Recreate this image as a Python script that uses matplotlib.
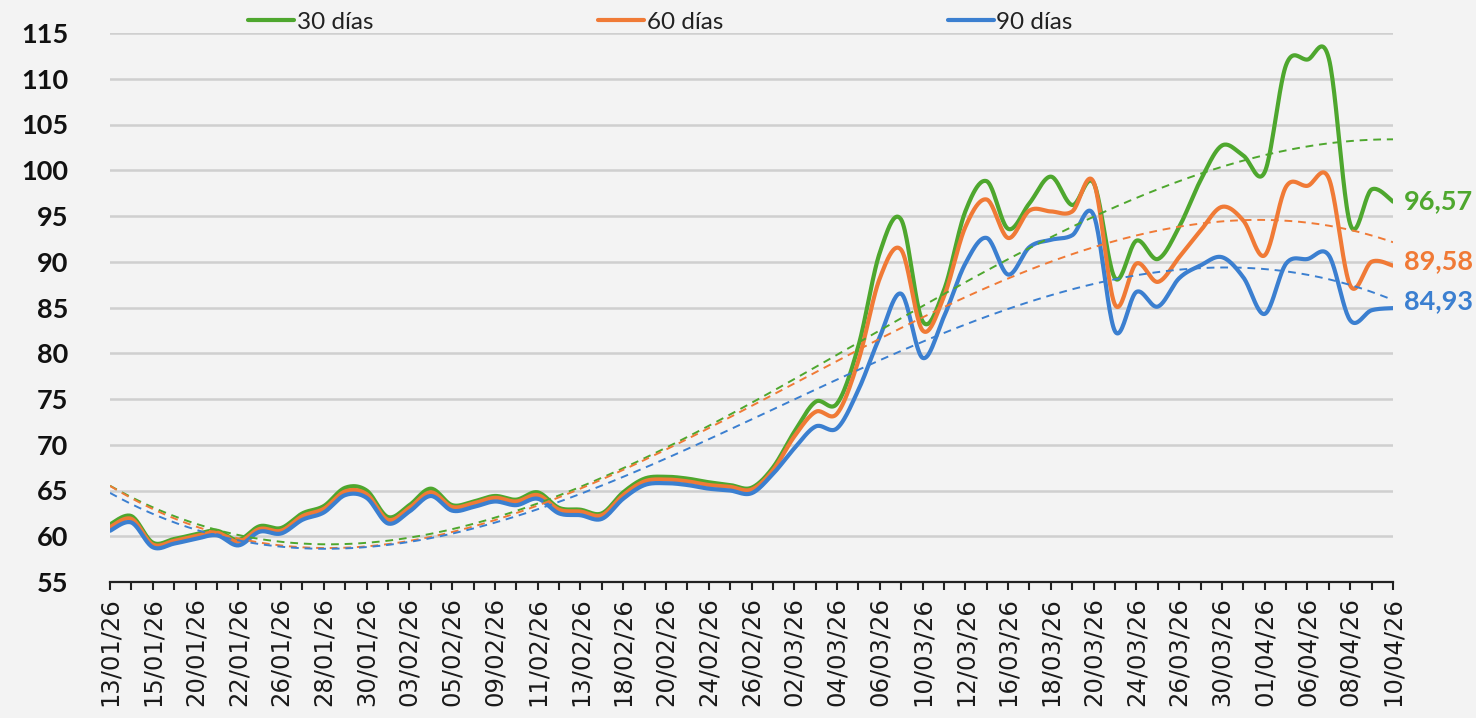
import numpy as np
import matplotlib
matplotlib.use("Agg")
import matplotlib.pyplot as plt

tick_labels = ["13/01/26", "15/01/26", "20/01/26", "22/01/26", "26/01/26", "28/01/26", "30/01/26",
               "03/02/26", "05/02/26", "09/02/26", "11/02/26", "13/02/26", "18/02/26", "20/02/26",
               "24/02/26", "26/02/26", "02/03/26", "04/03/26", "06/03/26", "10/03/26", "12/03/26",
               "16/03/26", "18/03/26", "20/03/26", "24/03/26", "26/03/26", "30/03/26", "01/04/26",
               "06/04/26", "08/04/26", "10/04/26"]

series_names = ["30 días", "60 días", "90 días"]

d30 = [61.3, 62.2, 59.3, 59.7, 60.2, 60.6, 59.6, 61.1, 60.9, 62.5, 63.3, 65.3, 65.0, 62.1, 63.4, 65.2,
       63.4, 63.8, 64.4, 64.0, 64.8, 63.1, 62.9, 62.5, 64.8, 66.3, 66.5, 66.3, 65.9, 65.6, 65.3, 67.5,
       71.4, 74.7, 74.5, 80.8, 91.0, 94.6, 83.5, 86.9, 95.5, 98.8, 93.6, 96.4, 99.3, 96.2, 98.6, 88.2,
       92.3, 90.3, 93.8, 98.9, 102.7, 101.6, 99.8, 111.5, 112.1, 112.2, 94.1, 97.9, 96.57]
d60 = [61.0, 61.9, 59.1, 59.5, 60.0, 60.4, 59.4, 60.8, 60.6, 62.2, 63.0, 64.9, 64.6, 61.8, 63.1, 64.8,
       63.2, 63.6, 64.2, 63.8, 64.5, 62.9, 62.7, 62.3, 64.5, 66.0, 66.2, 66.0, 65.6, 65.4, 65.1, 67.2,
       70.9, 73.6, 73.4, 79.2, 88.2, 91.3, 82.5, 86.2, 93.8, 96.8, 92.6, 95.6, 95.5, 95.5, 98.7, 85.3,
       89.8, 87.8, 90.5, 93.4, 96.0, 94.5, 90.7, 98.2, 98.3, 99.1, 87.4, 90.0, 89.58]
d90 = [60.6, 61.5, 58.8, 59.2, 59.7, 60.1, 59.0, 60.5, 60.3, 61.8, 62.6, 64.5, 64.2, 61.4, 62.7, 64.4,
       62.8, 63.2, 63.8, 63.4, 64.1, 62.5, 62.3, 61.9, 64.1, 65.6, 65.8, 65.6, 65.2, 65.0, 64.7, 66.8,
       69.6, 72.0, 71.8, 76.0, 81.8, 86.5, 79.5, 84.0, 89.8, 92.6, 88.6, 91.6, 92.4, 92.9, 95.1, 82.4,
       86.7, 85.1, 88.2, 89.6, 90.5, 88.3, 84.3, 89.8, 90.3, 90.7, 83.6, 84.7, 84.93]

end_labels = ["96,57", "89,58", "84,93"]
colors = ["#4EA72E", "#F07A36", "#3B7FD0"]


def smooth(y, n=24):
    """Excel-like smoothed line: cubic Bezier segments with Catmull-Rom controls."""
    y = np.asarray(y, float)
    x = np.arange(len(y), dtype=float)
    xs, ys = [], []
    t = np.linspace(0, 1, n, endpoint=False)
    for i in range(len(y) - 1):
        i0 = max(i - 1, 0)
        i3 = min(i + 2, len(y) - 1)
        for arr, out in ((x, xs), (y, ys)):
            p0, p1, p2, p3 = arr[i0], arr[i], arr[i + 1], arr[i3]
            c1 = p1 + (p2 - p0) / 6.0
            c2 = p2 - (p3 - p1) / 6.0
            out.append((1 - t) ** 3 * p1 + 3 * (1 - t) ** 2 * t * c1 + 3 * (1 - t) * t ** 2 * c2 + t ** 3 * p2)
    xs.append([x[-1]])
    ys.append([y[-1]])
    return np.concatenate(xs), np.concatenate(ys)


bg = "#F3F3F3"
fig = plt.figure(figsize=(14.76, 7.18), dpi=100, facecolor=bg)
ax = fig.add_axes([110 / 1476, 136 / 718, 1283 / 1476, 549 / 718])
ax.set_facecolor(bg)

n = len(d30)
xi = np.arange(n)

for data, c, name in zip([d30, d60, d90], colors, series_names):
    sx, sy = smooth(data)
    ax.plot(sx, sy, color=c, lw=3.0, solid_capstyle="round", label=name, zorder=3)

for data, c in zip([d30, d60, d90], colors):
    coef = np.polyfit(xi, data, 3)
    xx = np.linspace(0, n - 1, 400)
    ax.plot(xx, np.polyval(coef, xx), color=c, lw=1.4, ls=(0, (4, 3)), zorder=4)

ax.set_xlim(0, n - 1)
ax.set_ylim(55, 115)
ax.set_yticks(np.arange(55, 116, 5))
ax.yaxis.grid(True, color="#CFCFCF", lw=1.8)
ax.set_axisbelow(True)
for s in ["left", "right", "top"]:
    ax.spines[s].set_visible(False)
ax.spines["bottom"].set_color("#222222")
ax.spines["bottom"].set_linewidth(1.6)

ax.set_xticks(np.arange(0, n, 2))
ax.set_xticklabels(tick_labels, rotation=90, fontsize=17.5, family="DejaVu Sans", color="#1A1A1A")
ax.set_xticks(np.arange(1, n, 2), minor=True)
ax.tick_params(axis="x", which="both", direction="out", length=6, width=1.5, color="#222222", pad=5)
ax.tick_params(axis="y", length=0, pad=30)
for lab in ax.get_yticklabels():
    lab.set_fontfamily("Lato")
    lab.set_fontweight("bold")
    lab.set_fontsize(19.5)
    lab.set_color("#111111")

for data, c, txt, dy in zip([d30, d60, d90], colors, end_labels, [0, 3, 5]):
    ax.annotate(txt, xy=(n - 1, data[-1]), xytext=(8, dy), textcoords="offset points",
                va="center", ha="left", color=c, fontsize=19.5, fontweight="bold",
                family="Lato", annotation_clip=False)

leg = ax.legend(loc="center left", bbox_to_anchor=(0.1, 1.02), ncol=3, frameon=False,
                prop={"family": "Lato", "size": 17.5}, handlelength=1.9, handletextpad=0.1,
                columnspacing=9.25, borderaxespad=0)
for t in leg.get_texts():
    t.set_color("#222222")

fig.savefig("out.png", dpi=100, facecolor=bg)
